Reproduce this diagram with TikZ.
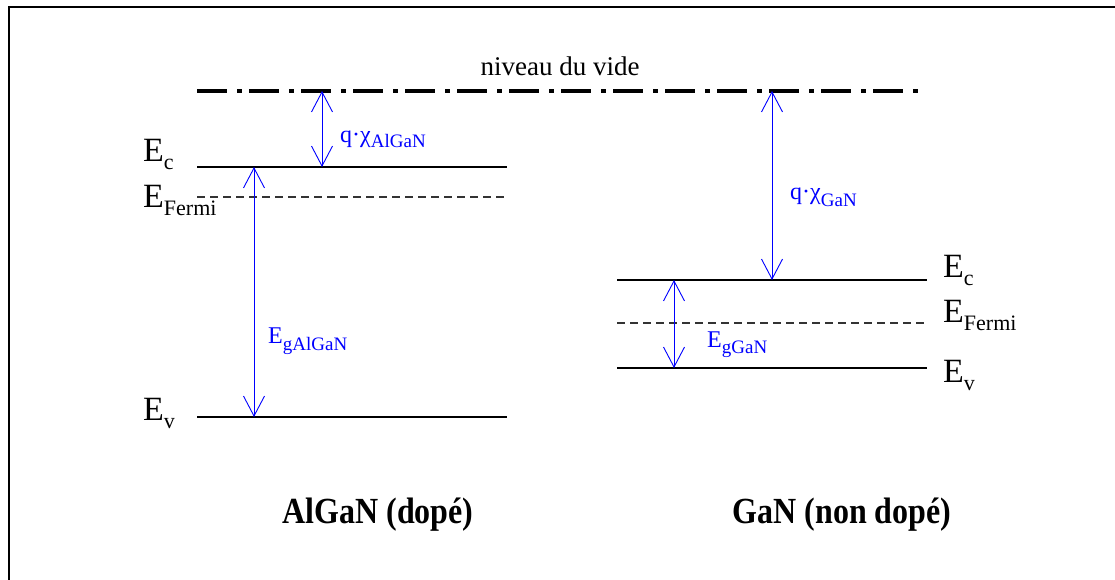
\documentclass[tikz,border=0pt]{standalone}
\usepackage{fontspec}
\setmainfont{Liberation Serif}
\usetikzlibrary{arrows.meta}

% black band-level label: large E with a lowered subscript
\newcommand\levelname[1]{{\fontsize{34}{34}\selectfont E}\raisebox{-8pt}{\fontsize{22}{22}\selectfont #1}}
% blue quantity label: symbol with a lowered subscript
\newcommand\quantity[3]{{\fontsize{24}{24}\selectfont #1}\raisebox{-#3pt}{\fontsize{19}{19}\selectfont #2}}
% tall bold heading
\newcommand\heading[1]{\scalebox{1}[1.15]{\fontsize{32}{32}\selectfont\bfseries #1}}

\tikzset{
  frame/.style={line width=2.5pt},
  vacuum/.style={line width=3.5pt, dash pattern=on 30pt off 10pt on 5pt off 7pt},
  level/.style={line width=1.3pt},
  fermi/.style={line width=1.3pt, dash pattern=on 8pt off 5pt, black!80},
  gap/.style={blue, line width=0.9pt, {Straight Barb[length=20pt,width=21pt]}-{Straight Barb[length=20pt,width=21pt]}},
  lbl/.style={inner sep=0pt, anchor=base west},
  qty/.style={lbl, text=blue},
  title/.style={inner sep=0pt, anchor=base}
}

\begin{document}
\begin{tikzpicture}[x=1pt, y=-1pt]
\useasboundingbox (0,0) rectangle (1115,580);
\fill[white] (0,0) rectangle (1115,580);

% partial frame
\draw[frame] (9,580) -- (9,7) -- (1115,7);

% vacuum level
\coordinate (vacL) at (197,91);
\coordinate (vacR) at (923,91);
\draw[vacuum] (vacL) -- (vacR);
\node[inner sep=0pt, anchor=base, font=\fontsize{27}{27}\selectfont] (vide) at (560,76) {niveau du vide};

% AlGaN levels
\coordinate (aEcL) at (197,167);  \coordinate (aEcR) at (507,167);
\coordinate (aEfL) at (197,197);  \coordinate (aEfR) at (507,197);
\coordinate (aEvL) at (197,417);  \coordinate (aEvR) at (507,417);
\draw[level] (aEcL) -- (aEcR);
\draw[fermi] (aEfL) -- (aEfR);
\draw[level] (aEvL) -- (aEvR);
\node[lbl] (aEc) at (143,162) {\levelname{c}};
\node[lbl] (aEf) at (143,207) {\levelname{Fermi}};
\node[lbl] (aEv) at (143,420) {\levelname{v}};

% GaN levels
\coordinate (gEcL) at (617,280);  \coordinate (gEcR) at (927,280);
\coordinate (gEfL) at (617,323);  \coordinate (gEfR) at (927,323);
\coordinate (gEvL) at (617,368);  \coordinate (gEvR) at (927,368);
\draw[level] (gEcL) -- (gEcR);
\draw[fermi] (gEfL) -- (gEfR);
\draw[level] (gEvL) -- (gEvR);
\node[lbl] (gEc) at (943,277) {\levelname{c}};
\node[lbl] (gEf) at (943,322) {\levelname{Fermi}};
\node[lbl] (gEv) at (943,382) {\levelname{v}};

% electron affinities and band gaps
\coordinate (chiAtop) at (322,91);  \coordinate (chiAbot) at (322,167);
\coordinate (egAtop) at (254,167);  \coordinate (egAbot) at (254,417);
\coordinate (chiGtop) at (772,91);  \coordinate (chiGbot) at (772,280);
\coordinate (egGtop) at (674,280);  \coordinate (egGbot) at (674,368);
\draw[gap] (chiAtop) -- (chiAbot);
\draw[gap] (egAtop) -- (egAbot);
\draw[gap] (chiGtop) -- (chiGbot);
\draw[gap] (egGtop) -- (egGbot);

\node[qty] (chiA) at (340,143) {\quantity{q·χ}{AlGaN}{5}};
\node[qty] (egA)  at (268,343) {\quantity{E}{gAlGaN}{7}};
\node[qty] (chiG) at (790,200) {\quantity{q·χ}{GaN}{6}};
\node[qty] (egG)  at (707,347) {\quantity{E}{gGaN}{6}};

% material names
\node[title] (algan) at (378,523) {\heading{AlGaN (dopé)}};
\node[title] (gan) at (842,523) {\heading{GaN (non dopé)}};
\end{tikzpicture}
\end{document}
